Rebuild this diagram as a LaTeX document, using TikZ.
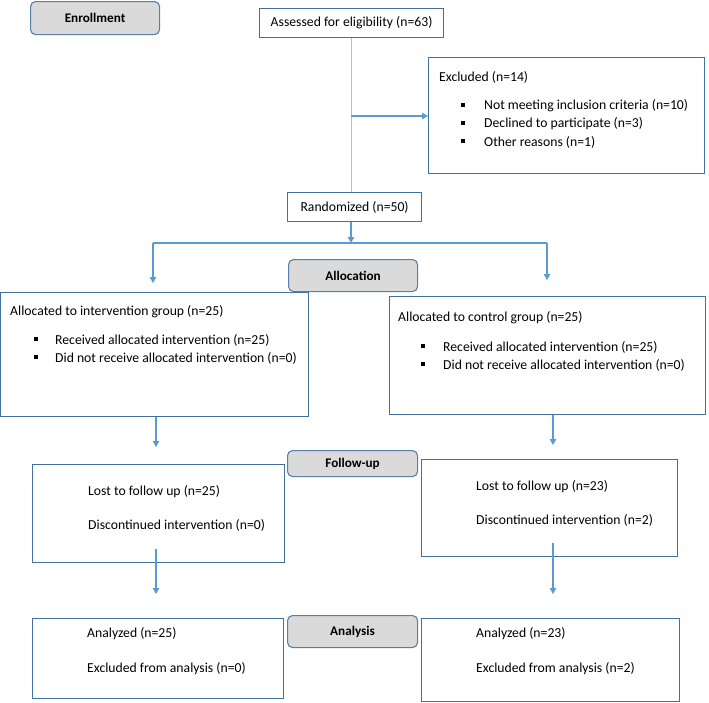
\documentclass[tikz,border=0pt]{standalone}
\usepackage{fontspec}
\setmainfont{Carlito}
\usetikzlibrary{arrows.meta}
\definecolor{boxblue}{HTML}{41719C}
\definecolor{arrblue}{HTML}{5B9BD5}
\definecolor{lineblue}{HTML}{9DC3E6}
\definecolor{lblgray}{HTML}{DADADA}
\definecolor{lblborder}{HTML}{5A7FA6}
\newcommand\sqbullet{\rule[0.22em]{4.2pt}{4.2pt}}
\begin{document}
\begin{tikzpicture}[x=1pt,y=-1pt,
  box/.style={draw=boxblue, line width=1.2pt, fill=white, inner sep=0pt, anchor=north west, font=\fontsize{13.7}{16}\selectfont},
  lbl/.style={draw=lblborder, fill=lblgray, rounded corners=5pt, line width=1.1pt, inner sep=0pt, anchor=north west, font=\fontsize{13.2}{16}\selectfont\bfseries},
  txt/.style={anchor=west, inner sep=0pt, font=\fontsize{13.7}{16}\selectfont},
  arr/.style={draw=arrblue, line width=1.2pt, -{Triangle[width=6.5pt,length=6pt]}},
  conn/.style={draw=arrblue, line width=1.2pt},
  thin/.style={draw=lineblue, line width=1pt}]
\useasboundingbox (0,0) rectangle (709,702);
% stage labels
\node[lbl, minimum width=129pt, minimum height=33pt] (enr) at (30,1) {Enrollment};
\node[lbl, minimum width=129pt, minimum height=32pt] (alloc) at (288,259) {Allocation};
\node[lbl, minimum width=130pt, minimum height=26pt] (fol) at (287,450) {Follow-up};
\node[lbl, minimum width=130pt, minimum height=32pt] (ana) at (287,615) {Analysis};
% enrollment boxes
\node[box, minimum width=184pt, minimum height=29pt] (assess) at (259,8) {Assessed for eligibility (n=63)};
\node[box, minimum width=276pt, minimum height=116pt] (excl) at (428,57) {};
\node[txt] (exclh) at (439,77) {Excluded (n=14)};
\node[txt] (ex1) at (461,106) {\makebox[23pt][l]{\sqbullet}Not meeting inclusion criteria (n=10)};
\node[txt] (ex2) at (461,124) {\makebox[23pt][l]{\sqbullet}Declined to participate (n=3)};
\node[txt] (ex3) at (461,142) {\makebox[23pt][l]{\sqbullet}Other reasons (n=1)};
\node[box, minimum width=134pt, minimum height=29pt] (rand) at (287,192) {Randomized (n=50)};
% allocation boxes
\node[box, minimum width=308pt, minimum height=124pt] (int) at (0,292) {};
\node[txt] (inth) at (10,312) {Allocated to intervention group (n=25)};
\node[txt] (int1) at (34,340) {\makebox[21pt][l]{\sqbullet}Received allocated intervention (n=25)};
\node[txt] (int2) at (34,358) {\makebox[21pt][l]{\sqbullet}Did not receive allocated intervention (n=0)};
\node[box, minimum width=316pt, minimum height=118pt] (ctl) at (389,296) {};
\node[txt] (ctlh) at (398,318) {Allocated to control group (n=25)};
\node[txt] (ctl1) at (421,347) {\makebox[22pt][l]{\sqbullet}Received allocated intervention (n=25)};
\node[txt] (ctl2) at (421,365) {\makebox[22pt][l]{\sqbullet}Did not receive allocated intervention (n=0)};
% follow-up boxes
\node[box, minimum width=252pt, minimum height=98pt] (fl) at (32,464) {};
\node[txt] (fl1) at (88,492) {Lost to follow up (n=25)};
\node[txt] (fl2) at (88,525) {Discontinued intervention (n=0)};
\node[box, minimum width=256pt, minimum height=97pt] (fr) at (421,459) {};
\node[txt] (fr1) at (476,487) {Lost to follow up (n=23)};
\node[txt] (fr2) at (476,520) {Discontinued intervention (n=2)};
% analysis boxes
\node[box, minimum width=251pt, minimum height=80pt] (al) at (32,618) {};
\node[txt] (al1) at (87,634) {Analyzed (n=25)};
\node[txt] (al2) at (87,669) {Excluded from analysis (n=0)};
\node[box, minimum width=258pt, minimum height=83pt] (ar) at (421,618) {};
\node[txt] (ar1) at (476,634) {Analyzed (n=23)};
\node[txt] (ar2) at (476,669) {Excluded from analysis (n=2)};
% coordinates
\coordinate (vx) at (351,116);
\coordinate (split) at (351,243);
\coordinate (sl) at (153,243);
\coordinate (sr) at (547,243);
\coordinate (tl) at (153,283);
\coordinate (tr) at (547,280);
\coordinate (fla) at (156,447);
\coordinate (fra) at (553,445);
\coordinate (als) at (156,549);
\coordinate (ala) at (156,594);
\coordinate (ars) at (553,543);
\coordinate (ara) at (553,594);
% connectors
\draw[thin] (assess.south) -- (assess.south |- rand.north);
\draw[arr] (vx) -- (excl.west |- vx);
\draw[arr] (rand.south -| split) -- (split);
\draw[conn] (sl) -- (sr);
\draw[arr] (sl) -- (tl);
\draw[arr] (sr) -- (tr);
\draw[arr] (int.south -| fla) -- (fla);
\draw[arr] (ctl.south -| fra) -- (fra);
\draw[arr] (als) -- (ala);
\draw[arr] (ars) -- (ara);
\end{tikzpicture}
\end{document}
